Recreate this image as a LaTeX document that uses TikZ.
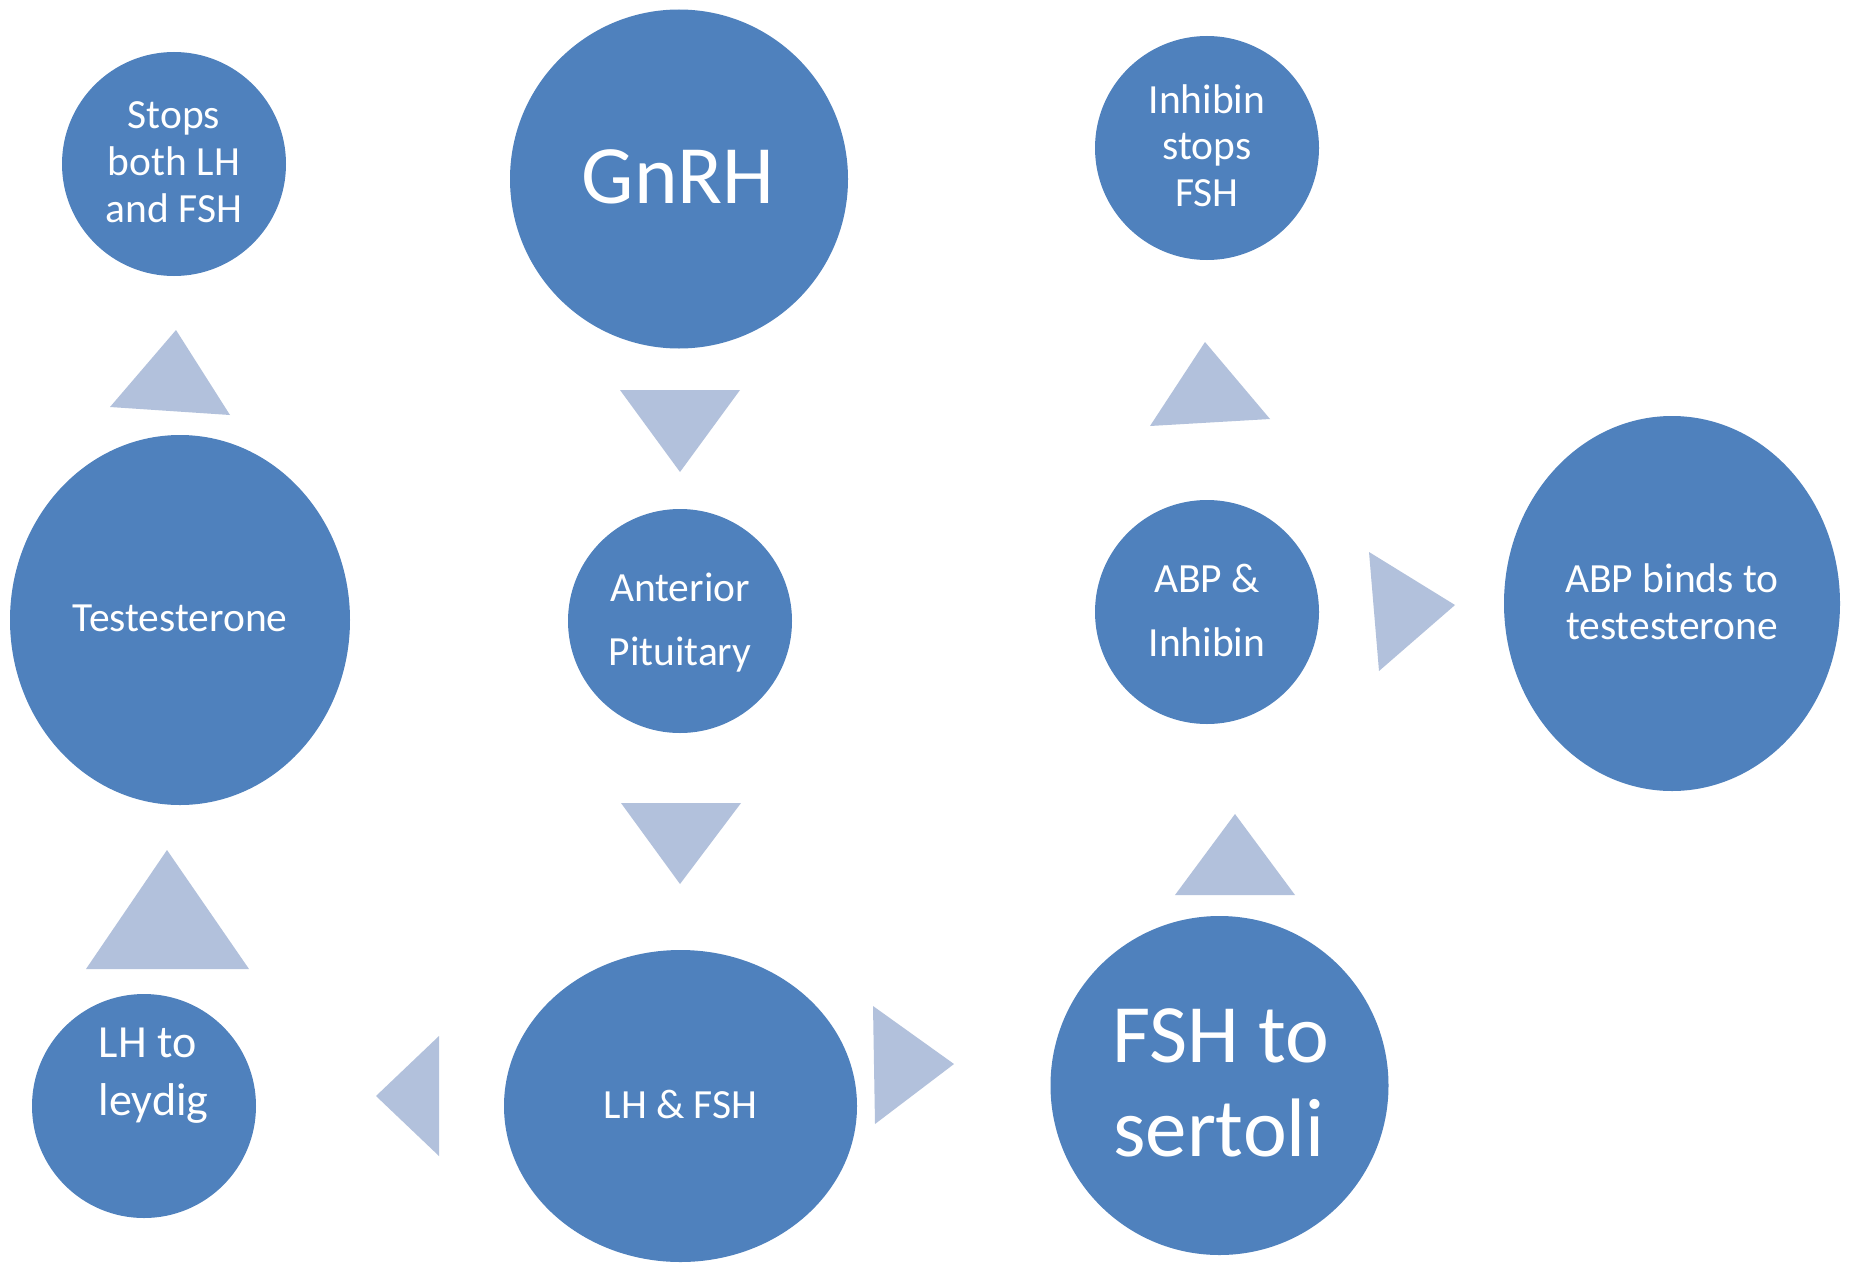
\documentclass[tikz,border=0pt]{standalone}
\usepackage{fontspec}
\setmainfont{Carlito}
\usetikzlibrary{shapes.geometric}
\definecolor{blobblue}{HTML}{4F81BD}
\definecolor{arrowblue}{HTML}{B2C1DC}
\begin{document}
\begin{tikzpicture}[x=1pt,y=-1pt,
  blob/.style={ellipse, fill=blobblue, draw=none, inner sep=0pt},
  tri/.style={fill=arrowblue, draw=none},
  lbl/.style={text=white, inner sep=0pt, anchor=base},
  small/.style={font=\fontsize{41.5}{50}\selectfont},
  mid/.style={font=\fontsize{46}{55}\selectfont},
  big/.style={font=\fontsize{83}{100}\selectfont}]
\useasboundingbox[fill=white] (0,0) rectangle (1854,1263);

% ellipses
\node[blob, minimum width=224pt, minimum height=224pt] (stops) at (174,164) {};
\node[blob, minimum width=338pt, minimum height=339pt] (gnrh) at (679,179) {};
\node[blob, minimum width=224pt, minimum height=224pt] (inhib) at (1207,148) {};
\node[blob, minimum width=340pt, minimum height=370pt] (testo) at (180,620) {};
\node[blob, minimum width=224pt, minimum height=224pt] (ap) at (680,621) {};
\node[blob, minimum width=224pt, minimum height=224pt] (abpinh) at (1207,612) {};
\node[blob, minimum width=336pt, minimum height=375pt] (abpbind) at (1672,603.5) {};
\node[blob, minimum width=224pt, minimum height=224pt] (leydig) at (144,1106) {};
\node[blob, minimum width=353pt, minimum height=312pt] (lhfsh) at (680.5,1106) {};
\node[blob, minimum width=338pt, minimum height=339pt] (sertoli) at (1219.5,1085.5) {};

% triangles
\fill[tri] (110,407) -- (176,330) -- (230,415) -- cycle;
\fill[tri] (620,390) -- (740,390) -- (680,472) -- cycle;
\fill[tri] (621,803) -- (741,803) -- (680,884) -- cycle;
\fill[tri] (1150,426) -- (1205,342) -- (1270,419) -- cycle;
\fill[tri] (1369,552) -- (1455,605) -- (1379,671) -- cycle;
\fill[tri] (86,969) -- (167,850) -- (249,969) -- cycle;
\fill[tri] (439,1036) -- (376,1096) -- (439,1156) -- cycle;
\fill[tri] (873,1006) -- (954,1064) -- (875,1124) -- cycle;
\fill[tri] (1175,895) -- (1235,814) -- (1295,895) -- cycle;

% texts
\node[lbl, small] (s1) at (174,128.3) {Stops};
\node[lbl, small] (s2) at (174,175.7) {both LH};
\node[lbl, small] (s3) at (174,222.3) {and FSH};

\node[lbl, big] (g1) at (678,203.3) {GnRH};

\node[lbl, small] (i1) at (1207,113.3) {Inhibin};
\node[lbl, small] (i2) at (1207,159.3) {stops};
\node[lbl, small] (i3) at (1207,206.7) {FSH};

\node[lbl, small] (t1) at (180,631.7) {Testesterone};

\node[lbl, small] (a1) at (680,601) {Anterior};
\node[lbl, small] (a2) at (680,665.7) {Pituitary};

\node[lbl, small] (b1) at (1207,592) {ABP \&};
\node[lbl, small] (b2) at (1207,656.7) {Inhibin};

\node[lbl, small] (c1) at (1672,592) {ABP binds to};
\node[lbl, small] (c2) at (1672,639) {testesterone};

\node[lbl, mid, anchor=base west] (l1) at (98.5,1057.7) {LH to};
\node[lbl, mid, anchor=base west] (l2) at (98.5,1115) {leydig};

\node[lbl, small] (f1) at (680.5,1118.3) {LH \& FSH};

\node[lbl, big] (r1) at (1221,1062.7) {FSH to};
\node[lbl, big] (r2) at (1219,1156.7) {sertoli};
\end{tikzpicture}
\end{document}
